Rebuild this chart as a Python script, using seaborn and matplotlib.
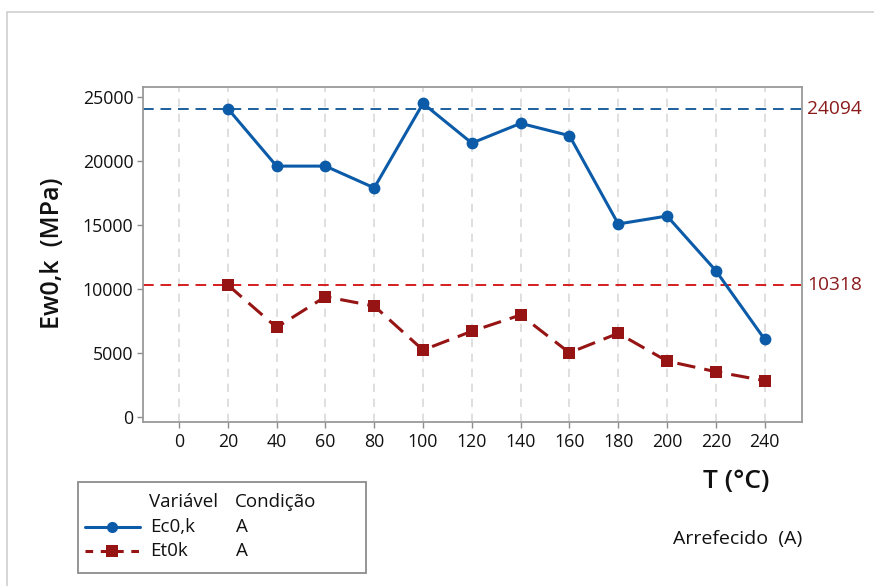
import matplotlib
matplotlib.use("Agg")
import matplotlib.pyplot as plt
from matplotlib.lines import Line2D
from matplotlib.patches import Rectangle
import pandas as pd
import seaborn as sns

# Temperature steps (°C)
temperatures = [20, 40, 60, 80, 100, 120, 140, 160, 180, 200, 220, 240]
# Characteristic moduli (MPa)
ec0k = [24094, 19600, 19600, 17900, 24500, 21400, 22940, 21980, 15080, 15700, 11430, 6070]
et0k = [10318, 7000, 9400, 8670, 5230, 6700, 7970, 5020, 6540, 4370, 3540, 2840]
# Reference values at 20 °C
ref_values = [24094, 10318]
x_ticks = list(range(0, 241, 20))
y_ticks = [0, 5000, 10000, 15000, 20000, 25000]

BLUE = "#0c5ba8"
DARK_RED = "#961414"
REF_BLUE = "#1d5f9e"
REF_RED = "#d41e1e"
LABEL_RED = "#8b1a1a"
GREY = "#8c8c8c"

sns.set_theme(style="white")
plt.rcParams["font.family"] = ["Open Sans", "DejaVu Sans"]

df = pd.DataFrame({
    "T": temperatures * 2,
    "E": ec0k + et0k,
    "Variável": ["Ec0,k"] * len(ec0k) + ["Et0k"] * len(et0k),
})

W, H = 874, 586
fig = plt.figure(figsize=(W / 100, H / 100), dpi=100)
ax = fig.add_axes([143 / W, 1 - 422 / H, (802 - 143) / W, (422 - 87) / H])

# vertical dashed grid at each x tick
for xt in x_ticks:
    ax.axvline(xt, color="#d9d9d9", lw=1.2, ls=(0, (5, 4)), zorder=0)

# reference lines
ax.axhline(ref_values[0], color=REF_BLUE, lw=1.4, ls=(0, (5.5, 3.5)), zorder=1)
ax.axhline(ref_values[1], color=REF_RED, lw=1.4, ls=(0, (5.5, 3.5)), zorder=1)

sub_c = df[df["Variável"] == "Ec0,k"]
sub_t = df[df["Variável"] == "Et0k"]
sns.lineplot(data=sub_c, x="T", y="E", ax=ax, color=BLUE, lw=2.2,
             marker="o", markersize=8.5, markeredgewidth=0, zorder=3)
sns.lineplot(data=sub_t, x="T", y="E", ax=ax, color=DARK_RED, lw=2.2,
             marker="s", markersize=8.5, markeredgewidth=0, zorder=3,
             linestyle=(0, (6, 3)))

ax.set_xlim(-14.75, 255.3)
ax.set_ylim(-390, 25780)
ax.set_xticks(x_ticks)
ax.set_yticks(y_ticks)
ax.tick_params(axis="both", labelsize=12.8, colors=GREY, labelcolor="#111111",
               length=4, width=1, direction="out", pad=3)
ax.tick_params(axis="x", bottom=True, pad=4)
ax.tick_params(axis="y", left=True)
for sp in ax.spines.values():
    sp.set_color("#9a9a9a")
    sp.set_linewidth(1.3)
ax.set_xlabel("")
ax.set_ylabel("")

# right-side labels for reference values
for v in ref_values:
    ax.text(1.008, v, f"{v}", transform=ax.get_yaxis_transform(), color=LABEL_RED,
            fontsize=13.8, va="center", ha="left")

# axis titles
fig.text(53 / W, 1 - 253 / H, "Ew0,k  (MPa)", rotation=90, fontsize=18,
         fontweight="semibold", va="center", ha="center", color="#111111")
fig.text(736 / W, 1 - 482 / H, "T (°C)", fontsize=19, fontweight="semibold",
         va="center", ha="center", color="#111111")
fig.text(738 / W, 1 - 539 / H, "Arrefecido  (A)", fontsize=14,
         va="center", ha="center", color="#111111")

# legend box
fig.patches.append(Rectangle((78 / W, 1 - 573 / H), (366 - 78) / W, (573 - 482) / H,
                             transform=fig.transFigure, fill=False,
                             edgecolor="#8c8c8c", lw=1.3))
LEG_FS = 13.5
fig.text(149 / W, 1 - 502 / H, "Variável", fontsize=LEG_FS, va="center", color="#111111")
fig.text(235 / W, 1 - 502 / H, "Condição", fontsize=LEG_FS, va="center", color="#111111")
rows = [("Ec0,k", BLUE, "-", "o", 527), ("Et0k", DARK_RED, (0, (2.5, 2.5)), "s", 551)]
for name, col, ls, mk, yp in rows:
    fig.add_artist(Line2D([85 / W, 140 / W], [1 - yp / H, 1 - yp / H],
                          transform=fig.transFigure, color=col, lw=2.2, ls=ls))
    fig.add_artist(Line2D([112 / W], [1 - yp / H], transform=fig.transFigure,
                          color=col, marker=mk, markersize=8, markeredgewidth=0))
    fig.text(150 / W, 1 - yp / H, name, fontsize=LEG_FS, va="center", color="#111111")
    fig.text(236 / W, 1 - yp / H, "A", fontsize=LEG_FS, va="center", color="#111111")

# outer frame
fig.patches.append(Rectangle((7 / W, -0.05), 1.0, 1 - 12 / H + 0.05,
                             transform=fig.transFigure, fill=False,
                             edgecolor="#d0d0d0", lw=1.2))

fig.savefig("out.png", dpi=100)
